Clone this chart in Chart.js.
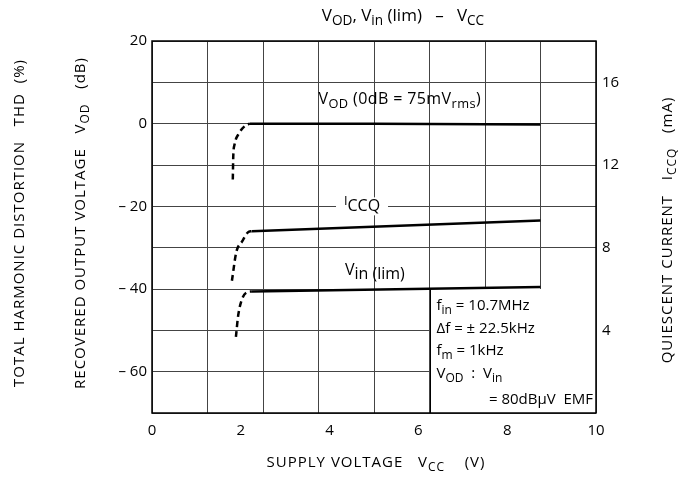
<!DOCTYPE html>
<html>
<head>
<meta charset="utf-8">
<script src="https://cdn.jsdelivr.net/npm/chart.js@4"></script>
<style>
  html, body { margin: 0; padding: 0; background: #fff; }
  #wrap { width: 688px; height: 479px; }
</style>
</head>
<body>
<div id="wrap"><canvas id="chart" width="688" height="479"></canvas></div>
<script>
// supply voltage grid (V) - the chart grid is in 1.25 V steps, labels every 2 V
const gridVolts = [0, 1.25, 2.5, 3.75, 5, 6.25, 7.5, 8.75, 10];

// VOD (dB) vs VCC
const vodX = [1.82, 1.83, 1.86, 1.95, 2.1, 2.2, 5, 8.75];
const vodY = [-13.5, -8, -5, -2.5, -0.5, 0, 0, -0.2];

// ICCQ (mA) vs VCC, right axis
const iccqX = [1.8, 1.9, 2.03, 2.16, 2.25, 8.75];
const iccqY = [6.4, 7.8, 8.3, 8.74, 8.8, 9.32];

// Vin(lim) (dB) vs VCC
const vinX = [1.89, 1.94, 2.03, 2.16, 2.25, 8.75];
const vinY = [-51.6, -46.5, -42.4, -40.7, -40.6, -39.5];

// below this voltage the curves are drawn dashed
const dashUntil = 2.25;

const FONT = '"Open Sans", "DejaVu Sans", sans-serif';

// draw text with subscripts, parts = [[text, mode]]
// mode 0 normal, 1 small sub, 2 small raised, 3 full size but lowered
function drawRich(ctx, parts, x, y, size, align, spacing) {
    const small = size * 0.8;
    const fontFor = m => ((m === 1 || m === 2) ? small : size) + 'px ' + FONT;
    ctx.letterSpacing = (spacing || 0) + 'px';
    const widths = parts.map(p => {
        ctx.font = fontFor(p[1]);
        return ctx.measureText(p[0]).width;
    });
    const total = widths.reduce((a, b) => a + b, 0);
    let cx = x;
    if (align === 'center') cx = x - total / 2;
    if (align === 'right') cx = x - total;
    ctx.textAlign = 'left';
    ctx.textBaseline = 'middle';
    ctx.fillStyle = '#000';
    parts.forEach((p, i) => {
        ctx.font = fontFor(p[1]);
        let dy = 0;
        if (p[1] === 1) dy = size * 0.3;
        if (p[1] === 2) dy = -size * 0.3;
        if (p[1] === 3) dy = size * 0.2;
        ctx.fillText(p[0], cx, y + dy);
        cx += widths[i];
    });
    ctx.letterSpacing = '0px';
    return total;
}

const textPlugin = {
    id: 'texts',
    beforeDatasetsDraw(chart) {
        const ctx = chart.ctx;
        const xs = chart.scales.x, ys = chart.scales.y;
        const area = chart.chartArea;
        ctx.save();
        // condition box, white so grid does not show
        const bx = Math.round(xs.getPixelForValue(6.25)) + 0.5;
        const by = ys.getPixelForValue(-40);
        ctx.fillStyle = '#fff';
        ctx.fillRect(bx, by, area.right - bx, area.bottom - by);
        ctx.strokeStyle = '#000';
        ctx.lineWidth = 1;
        ctx.beginPath();
        ctx.moveTo(bx, by);
        ctx.lineTo(bx, area.bottom);
        ctx.stroke();

        drawRich(ctx, [['f', 0], ['in', 1], [' = 10.7MHz', 0]], bx + 6, by + 17, 15, 'left');
        drawRich(ctx, [['Δf = ± 22.5kHz', 0]], bx + 6, by + 40, 15, 'left');
        drawRich(ctx, [['f', 0], ['m', 1], [' = 1kHz', 0]], bx + 6, by + 62, 15, 'left');
        drawRich(ctx, [['V', 0], ['OD', 1], ['  :  V', 0], ['in', 1]], bx + 6, by + 85, 15, 'left');
        drawRich(ctx, [['= 80dBμV  EMF', 0]], area.right - 3, by + 111, 15, 'right');

        // ICCQ label sits on a gridline, blank it out first
        const ix = xs.getPixelForValue(4.73), iy = ys.getPixelForValue(-20);
        ctx.fillStyle = '#fff';
        ctx.fillRect(ix - 26, iy - 9, 52, 18);
        drawRich(ctx, [['I', 2], ['CCQ', 0]], ix, iy, 16, 'center');

        drawRich(ctx, [['V', 0], ['OD', 1], [' (0dB = 75mV', 0], ['rms', 1], [')', 0]],
            xs.getPixelForValue(5.58), ys.getPixelForValue(5.8), 16, 'center', 0.4);
        drawRich(ctx, [['V', 0], ['in (lim)', 3]],
            xs.getPixelForValue(5.02), ys.getPixelForValue(-35.6), 16, 'center');
        ctx.restore();
    },
    afterDraw(chart) {
        const ctx = chart.ctx;
        const area = chart.chartArea;
        ctx.save();
        // frame
        ctx.strokeStyle = '#000';
        ctx.lineWidth = 1.5;
        ctx.strokeRect(area.left, area.top, area.right - area.left, area.bottom - area.top);

        // title
        drawRich(ctx, [['V', 0], ['OD', 1], [', ', 0], ['V', 0], ['in', 1], [' (lim)   –   ', 0], ['V', 0], ['CC', 1]],
            403, 16, 17, 'center');

        // x axis title
        drawRich(ctx, [['SUPPLY VOLTAGE   V', 0], ['CC', 1], ['    (V)', 0]], 376, 463, 15, 'center', 1);

        // left titles, rotated
        ctx.translate(20, 223);
        ctx.rotate(-Math.PI / 2);
        drawRich(ctx, [['TOTAL HARMONIC DISTORTION   THD  (%)', 0]], 0, 0, 15, 'center', 1);
        ctx.setTransform(1, 0, 0, 1, 0, 0);
        ctx.translate(81, 223);
        ctx.rotate(-Math.PI / 2);
        drawRich(ctx, [['RECOVERED OUTPUT VOLTAGE   V', 0], ['OD', 1], ['   (dB)', 0]], 0, 0, 15, 'center', 1);
        ctx.setTransform(1, 0, 0, 1, 0, 0);
        ctx.translate(668, 230);
        ctx.rotate(-Math.PI / 2);
        drawRich(ctx, [['QUIESCENT CURRENT   I', 0], ['CCQ', 1], ['   (mA)', 0]], 0, 0, 15, 'center', 1);
        ctx.restore();
    }
};

// each curve: dashed start-up part (smooth) and solid straight part
function curveSets(xs, ys, axis) {
    const pts = xs.map((x, i) => ({ x: x, y: ys[i] }));
    let k = 0;
    pts.forEach((p, i) => { if (p.x <= dashUntil) k = i; });
    const base = {
        yAxisID: axis,
        borderColor: '#000',
        borderWidth: 2.5,
        pointRadius: 0,
        fill: false
    };
    return [
        Object.assign({}, base, {
            data: pts.slice(0, k + 1),
            borderDash: [6, 4],
            cubicInterpolationMode: 'monotone'
        }),
        Object.assign({}, base, {
            data: pts.slice(k),
            tension: 0
        })
    ];
}

const tickFont = { family: FONT, size: 15 };

const chart = new Chart(document.getElementById('chart'), {
    type: 'line',
    data: {
        datasets: [].concat(
            curveSets(vodX, vodY, 'y'),
            curveSets(iccqX, iccqY, 'y2'),
            curveSets(vinX, vinY, 'y')
        )
    },
    plugins: [textPlugin],
    options: {
        responsive: false,
        animation: false,
        devicePixelRatio: 1,
        layout: { padding: { top: 41, left: 0, right: 0, bottom: 0 } },
        plugins: {
            legend: { display: false },
            title: { display: false },
            tooltip: { enabled: false }
        },
        scales: {
            x: {
                type: 'linear',
                position: 'bottom',
                weight: 0,
                min: 0,
                max: 10,
                afterBuildTicks: s => { s.ticks = gridVolts.map(v => ({ value: v })); },
                ticks: { display: false },
                grid: { color: '#444', lineWidth: 1, drawTicks: false },
                border: { display: false },
                afterFit: s => { s.height = 0; }
            },
            x2: {
                type: 'linear',
                position: 'bottom',
                weight: 1,
                min: 0,
                max: 10,
                ticks: { stepSize: 2, color: '#000', font: tickFont, padding: 9, maxRotation: 0 },
                grid: { display: false, drawTicks: false },
                border: { display: false },
                afterFit: s => { s.height = 66; }
            },
            y: {
                type: 'linear',
                position: 'left',
                min: -70,
                max: 20,
                ticks: {
                    stepSize: 10,
                    color: '#000',
                    font: tickFont,
                    padding: 5,
                    callback: v => {
                        if (v % 20 !== 0) return '';
                        if (v < 0) return '– ' + (-v);
                        return String(v);
                    }
                },
                grid: { color: '#444', lineWidth: 1, drawTicks: false },
                border: { display: false },
                afterFit: s => { s.width = 152; }
            },
            y2: {
                type: 'linear',
                position: 'right',
                min: 0,
                max: 18,
                ticks: {
                    stepSize: 4,
                    color: '#000',
                    font: tickFont,
                    padding: 6,
                    callback: v => (v > 0 && v % 4 === 0) ? String(v) : ''
                },
                grid: { display: false, drawTicks: false },
                border: { display: false },
                afterFit: s => { s.width = 92; }
            }
        }
    }
});
</script>
</body>
</html>
